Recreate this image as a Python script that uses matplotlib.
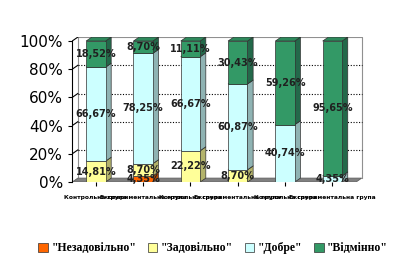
import matplotlib.pyplot as plt
from matplotlib.patches import Polygon
import numpy as np

groups = ['Контрольна група', 'Експериментальна група',
          'Контрольна група', 'Експериментальна група',
          'Контрольна група', 'Експериментальна група']
series = ['"Незадовільно"', '"Задовільно"', '"Добре"', '"Відмінно"']
nezadov = [0, 4.35, 0, 0, 0, 0]
zadov = [14.81, 8.70, 22.22, 8.70, 0, 0]
dobre = [66.67, 78.25, 66.67, 60.87, 40.74, 4.35]
vidminno = [18.52, 8.70, 11.11, 30.43, 59.26, 95.65]

values = [nezadov, zadov, dobre, vidminno]
front = ['#FF6600', '#FFFF99', '#CCFFFF', '#339966']
side = ['#B34700', '#B3B36B', '#8FB3B3', '#23694A']
top = ['#FF8533', '#E6E68A', '#B8E6E6', '#2E8A5C']

dpi = 100
fig = plt.figure(dpi=dpi, figsize=(410 / dpi, 265 / dpi))
ax = fig.add_axes([0.176, 0.313, 0.712, 0.547])

dx, dy = 0.12, 2.8
w = 0.41
xs = np.arange(len(groups))

# back wall, floor and grid
ax.add_patch(Polygon([(-0.5, 0), (-0.5 + dx, dy), (5.5 + dx, dy), (5.5, 0)],
                     closed=True, facecolor='#808080', edgecolor='#606060', lw=0.6, zorder=1))
ax.plot([-0.5 + dx, -0.5 + dx, 5.5 + dx, 5.5 + dx], [dy, 100 + dy, 100 + dy, dy],
        color='#909090', lw=0.8, zorder=0)
for g in [20, 40, 60, 80]:
    ax.plot([-0.5 + dx, 5.5 + dx], [g + dy, g + dy], color='black', lw=0.8,
            ls=(0, (1, 1.5)), zorder=0)
    ax.plot([-0.5, -0.5 + dx], [g, g + dy], color='black', lw=0.8, zorder=0)
ax.plot([-0.5, -0.5 + dx], [100, 100 + dy], color='black', lw=0.8, zorder=0)

totals = np.sum(values, axis=0)
bottom = np.zeros(len(groups))
z = 2
for k, vals in enumerate(values):
    vals = np.array(vals)
    for i, x in enumerate(xs):
        if vals[i] <= 0:
            continue
        b, t = bottom[i], bottom[i] + vals[i]
        ax.add_patch(Polygon([(x + w / 2, b), (x + w / 2 + dx, b + dy),
                              (x + w / 2 + dx, t + dy), (x + w / 2, t)],
                             closed=True, facecolor=side[k], edgecolor='#303030', lw=0.5, zorder=z))
        ax.add_patch(Polygon([(x - w / 2, t), (x - w / 2 + dx, t + dy),
                              (x + w / 2 + dx, t + dy), (x + w / 2, t)],
                             closed=True, facecolor=top[k], edgecolor='#303030', lw=0.5, zorder=z))
    ax.bar(xs, vals, w, bottom=bottom, color=front[k], edgecolor='#303030', lw=0.5,
           label=series[k], zorder=z + 0.5)
    z += 1
    bottom += vals

bottom = np.zeros(len(groups))
for vals in values:
    vals = np.array(vals)
    for i, x in enumerate(xs):
        if vals[i] > 0:
            ax.text(x, bottom[i] + vals[i] / 2, ('%.2f%%' % vals[i]).replace('.', ','),
                    ha='center', va='center', fontsize=7, fontweight='bold',
                    color='#202020', zorder=10)
    bottom += vals

ax.set_xlim(-0.5, 5.5 + dx + 0.05)
ax.set_ylim(0, 100 + dy)
ax.set_yticks([0, 20, 40, 60, 80, 100])
ax.set_yticklabels(['0%', '20%', '40%', '60%', '80%', '100%'], fontsize=11)
ax.set_xticks(xs)
ax.set_xticklabels(groups, fontsize=4.3, fontweight='bold')
ax.tick_params(axis='x', length=3, pad=6)
ax.tick_params(axis='y', length=3, direction='out')
for s in ['top', 'right', 'bottom']:
    ax.spines[s].set_visible(False)
ax.spines['left'].set_bounds(0, 100)

fig.legend(loc='lower center', bbox_to_anchor=(0.52, 0.0), ncol=4, frameon=False,
           handlelength=0.8, handleheight=0.8, handletextpad=0.3,
           columnspacing=1.0, prop={'family': 'Liberation Serif', 'weight': 'bold', 'size': 8.5})

fig.savefig('out.png', dpi=dpi)
